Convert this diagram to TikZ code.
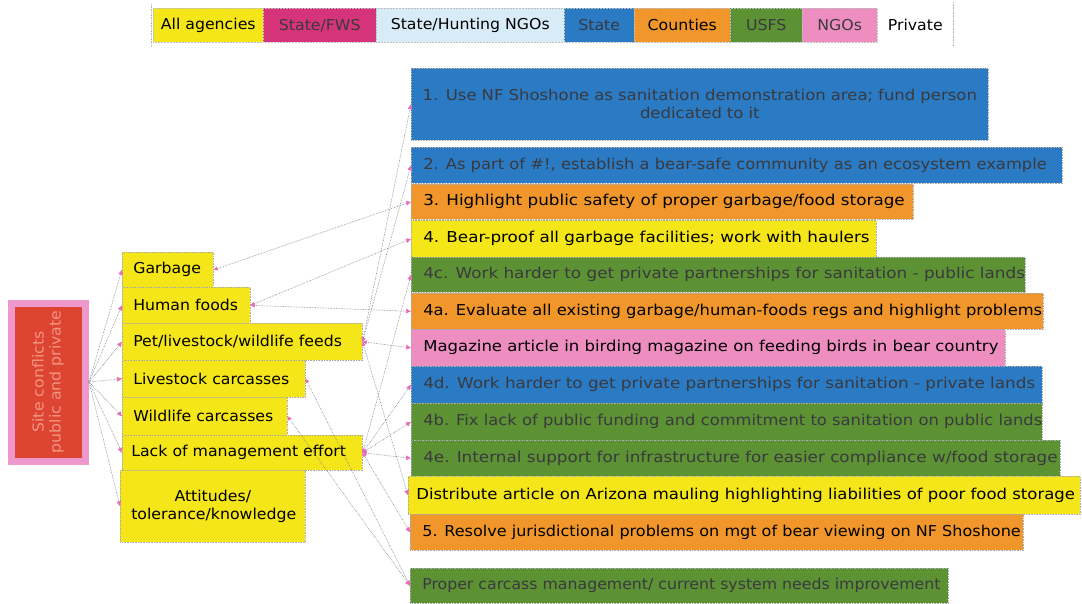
\documentclass[tikz,border=0pt]{standalone}
\usepackage{fontspec}
\setmainfont{DejaVu Sans}[FakeStretch=1.05]
\newfontfamily\rfont{DejaVu Sans}[FakeStretch=1.1]
\newfontfamily\rfontA{DejaVu Sans}[FakeStretch=1.09]
\newfontfamily\rfontB{DejaVu Sans}[FakeStretch=1.12]
\newfontfamily\rfontC{DejaVu Sans}[FakeStretch=1.07]
\usetikzlibrary{arrows.meta}
\definecolor{cyel}{RGB}{245,230,25}
\definecolor{cmag}{RGB}{214,52,122}
\definecolor{clblue}{RGB}{216,236,248}
\definecolor{cblue}{RGB}{42,122,196}
\definecolor{corange}{RGB}{240,150,42}
\definecolor{cgreen}{RGB}{92,145,52}
\definecolor{cpink}{RGB}{238,142,192}
\definecolor{cred}{RGB}{222,68,50}
\definecolor{cframe}{RGB}{238,152,204}
\definecolor{cdark}{RGB}{58,58,62}
\definecolor{csite}{RGB}{240,150,128}
\definecolor{carrow}{RGB}{232,110,185}
\definecolor{cline}{RGB}{125,125,145}
\newcommand\lbx[2]{\makebox[#1pt][l]{#2}}
\begin{document}
\begin{tikzpicture}[x=1pt,y=-1pt,
  txt/.style={font=\fontsize{15}{18}\selectfont},
  rtxt/.style={font=\rfont\fontsize{15}{18}\selectfont},
  box/.style={txt,draw=gray!65,densely dotted,line width=0.6pt,anchor=north west,inner xsep=12pt,inner ysep=0pt},
  rbox/.style={box,rtxt},
  rboxA/.style={box,font=\rfontA\fontsize{15}{18}\selectfont},
  rboxB/.style={box,font=\rfontB\fontsize{15}{18}\selectfont},
  rboxC/.style={box,font=\rfontC\fontsize{15}{18}\selectfont},
  mbox/.style={box,fill=cyel,text=black,inner xsep=11pt},
  leg/.style={txt,draw=gray!50,densely dotted,line width=0.5pt,anchor=north west,inner sep=0pt,minimum height=34pt},
  conn/.style={draw=cline,densely dotted,line width=0.6pt,-{Triangle[length=5pt,width=4.5pt,color=carrow]}},
  conn2/.style={draw=cline,densely dotted,line width=0.6pt,{Triangle[length=4pt,width=4pt,color=carrow]}-{Triangle[length=5pt,width=4.5pt,color=carrow]}}]
\useasboundingbox (0,0) rectangle (1082,604);
\fill[white] (0,0) rectangle (1082,604);

% legend
\node[leg,fill=cyel,minimum width=110pt,text=black] (lall) at (153,8) {All agencies};
\node[leg,fill=cmag,minimum width=113pt,text=cdark] (lfws) at (263,8) {State/FWS};
\node[leg,fill=clblue,minimum width=188pt,text=black] (lhunt) at (376,8) {State/Hunting NGOs};
\node[leg,fill=cblue,minimum width=70pt,text=cdark] (lstate) at (564,8) {State};
\node[leg,fill=corange,minimum width=96pt,text=black] (lcount) at (634,8) {Counties};
\node[leg,fill=cgreen,minimum width=72pt,text=cdark] (lusfs) at (730,8) {USFS};
\node[leg,fill=cpink,minimum width=75pt,text=cdark] (lngo) at (802,8) {NGOs};
\node[leg,draw=none,minimum width=76pt,text=black] (lpriv) at (877,8) {Private};
\draw[gray!60,densely dotted,line width=0.6pt] (151,4) -- (151,46);
\draw[gray!60,densely dotted,line width=0.6pt] (953,2) -- (953,46);

% site box
\node[fill=cred,draw=cframe,line width=7pt,minimum width=74pt,minimum height=158pt,inner sep=0pt,text=csite,txt] (site) at (48.5,382)
  {\rotatebox{90}{\begin{tabular}{@{}c@{}}Site conflicts\\[-1pt]public and private\end{tabular}}};

% middle boxes
\node[mbox,minimum height=35pt] (m1) at (122,252) {\lbx{69}{Garbage}};
\node[mbox,minimum height=36pt] (m2) at (122,287) {\lbx{106}{Human foods}};
\node[mbox,minimum height=37pt] (m3) at (122,323) {\lbx{218}{Pet/livestock/wildlife feeds}};
\node[mbox,minimum height=37pt] (m4) at (122,360) {\lbx{161}{Livestock carcasses}};
\node[mbox,minimum height=38pt] (m5) at (122,397) {\lbx{143}{Wildlife carcasses}};
\node[mbox,minimum height=35pt,inner xsep=9pt] (m6) at (122,435) {\lbx{222}{Lack of management effort}};
\node[mbox,minimum height=72pt,text width=163pt,align=center] (m7) at (120,470) {Attitudes/\\tolerance/knowledge};

% right boxes
\node[rbox,fill=cblue,text=cdark,minimum height=72pt,inner xsep=6pt,text width=565pt,align=center] (r1) at (411,68)
  {1. Use NF Shoshone as sanitation demonstration area; fund person\\dedicated to it};
\node[rboxA,fill=cblue,text=cdark,minimum height=36pt] (r2) at (411,147) {\lbx{627}{2. As part of \#!, establish a bear-safe community as an ecosystem example}};
\node[rboxB,fill=corange,text=black,minimum height=35pt] (r3) at (411,184) {\lbx{478}{3. Highlight public safety of proper garbage/food storage}};
\node[rboxB,fill=cyel,text=black,minimum height=37pt] (r4) at (411,220) {\lbx{441}{4. Bear-proof all garbage facilities; work with haulers}};
\node[rboxB,fill=cgreen,text=cdark,minimum height=35pt] (r4c) at (411,257) {\lbx{590}{4c. Work harder to get private partnerships for sanitation - public lands}};
\node[rboxA,fill=corange,text=black,minimum height=36pt] (r4a) at (411,293) {\lbx{608}{4a. Evaluate all existing garbage/human-foods regs and highlight problems}};
\node[rbox,fill=cpink,text=black,minimum height=37pt] (rmag) at (411,329) {\lbx{570}{Magazine article in birding magazine on feeding birds in bear country}};
\node[rboxB,fill=cblue,text=cdark,minimum height=37pt] (r4d) at (411,366) {\lbx{607}{4d. Work harder to get private partnerships for sanitation - private lands}};
\node[rboxA,fill=cgreen,text=cdark,minimum height=37pt] (r4b) at (411,403) {\lbx{607}{4b. Fix lack of public funding and commitment to sanitation on public lands}};
\node[rboxB,fill=cgreen,text=cdark,minimum height=36pt] (r4e) at (411,440) {\lbx{625}{4e. Internal support for infrastructure for easier compliance w/food storage}};
\node[rbox,fill=cyel,text=black,minimum height=38pt,inner xsep=8pt] (rdist) at (408,476) {\lbx{656}{Distribute article on Arizona mauling highlighting liabilities of poor food storage}};
\node[rboxC,fill=corange,text=black,minimum height=36pt] (r5) at (410,514) {\lbx{589}{5. Resolve jurisdictional problems on mgt of bear viewing on NF Shoshone}};
\node[box,fill=cgreen,text=cdark,minimum height=35pt] (rprop) at (410,568) {\lbx{514}{Proper carcass management/ current system needs improvement}};

% connectors: site to causes
\foreach \m in {m1,m2,m3,m4,m5,m6,m7}
  \draw[conn] (site.east) -- (\m.west);

% connectors: causes to actions
\draw[conn2] (m1.east) -- (r3.west);
\draw[conn2] (m2.east) -- (r4.west);
\draw[conn2] (m2.east) -- (r4a.west);
\draw[conn2] (m3.east) -- (r1.west);
\draw[conn2] (m3.east) -- (r2.west);
\draw[conn2] (m3.east) -- (rmag.west);
\draw[conn2] (m3.east) -- (rdist.west);
\draw[conn2] (m4.east) -- (rprop.west);
\draw[conn2] (m5.east) -- (rprop.west);
\draw[conn2] (m6.east) -- (r4c.west);
\draw[conn2] (m6.east) -- (r4d.west);
\draw[conn2] (m6.east) -- (r4b.west);
\draw[conn2] (m6.east) -- (r4e.west);
\draw[conn2] (m6.east) -- (r5.west);
\end{tikzpicture}
\end{document}
